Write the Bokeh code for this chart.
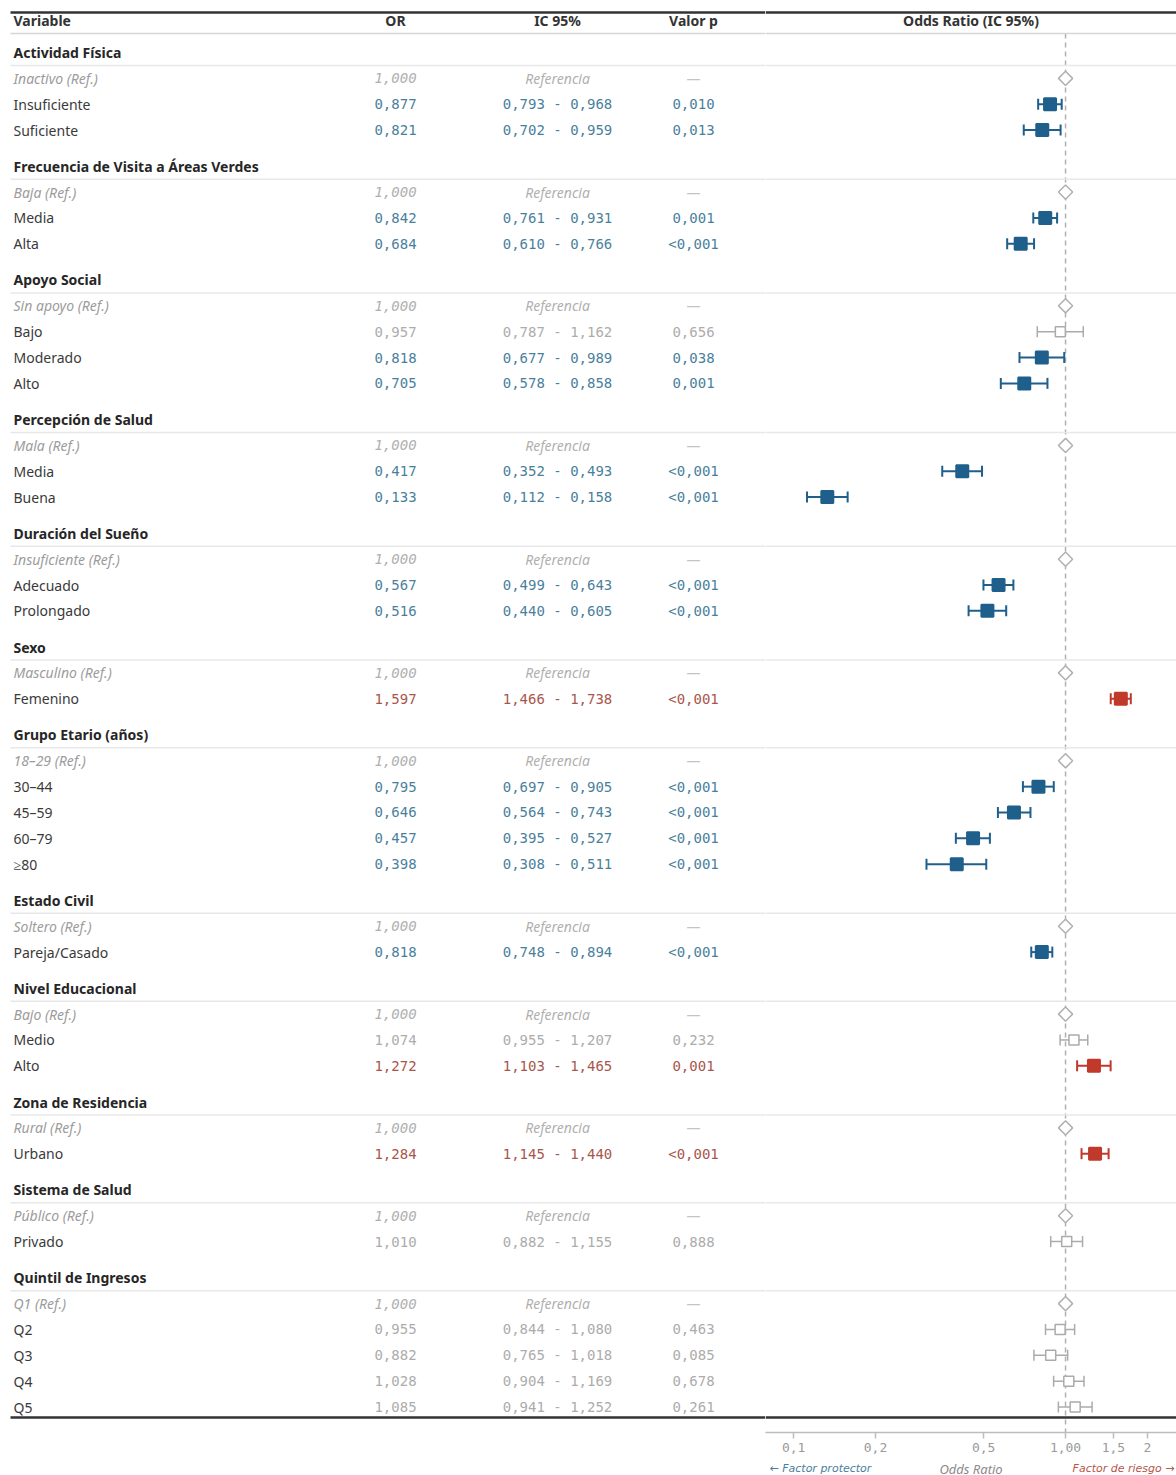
import numpy as np
from bokeh.plotting import figure
from bokeh.models import Range1d, ColumnDataSource, Span, Label, FixedTicker
from bokeh.layouts import row, column
from bokeh.embed import file_html
from bokeh.resources import INLINE
from bokeh.core.properties import value

# ---------------- data ----------------
group_names = ["Actividad Física", "Frecuencia de Visita a Áreas Verdes", "Apoyo Social",
               "Percepción de Salud", "Duración del Sueño", "Sexo", "Grupo Etario (años)",
               "Estado Civil", "Nivel Educacional", "Zona de Residencia", "Sistema de Salud",
               "Quintil de Ingresos"]
ref_labels = ["Inactivo", "Baja", "Sin apoyo", "Mala", "Insuficiente", "Masculino", "18–29",
              "Soltero", "Bajo", "Rural", "Público", "Q1"]
categories = [["Insuficiente", "Suficiente"], ["Media", "Alta"], ["Bajo", "Moderado", "Alto"],
              ["Media", "Buena"], ["Adecuado", "Prolongado"], ["Femenino"],
              ["30–44", "45–59", "60–79", "≥80"], ["Pareja/Casado"], ["Medio", "Alto"],
              ["Urbano"], ["Privado"], ["Q2", "Q3", "Q4", "Q5"]]
odds_ratio = [[0.877, 0.821], [0.842, 0.684], [0.957, 0.818, 0.705], [0.417, 0.133],
              [0.567, 0.516], [1.597], [0.795, 0.646, 0.457, 0.398], [0.818], [1.074, 1.272],
              [1.284], [1.010], [0.955, 0.882, 1.028, 1.085]]
ci_low = [[0.793, 0.702], [0.761, 0.610], [0.787, 0.677, 0.578], [0.352, 0.112],
          [0.499, 0.440], [1.466], [0.697, 0.564, 0.395, 0.308], [0.748], [0.955, 1.103],
          [1.145], [0.882], [0.844, 0.765, 0.904, 0.941]]
ci_high = [[0.968, 0.959], [0.931, 0.766], [1.162, 0.989, 0.858], [0.493, 0.158],
           [0.643, 0.605], [1.738], [0.905, 0.743, 0.527, 0.511], [0.894], [1.207, 1.465],
           [1.440], [1.155], [1.080, 1.018, 1.169, 1.252]]
p_values = [["0,010", "0,013"], ["0,001", "<0,001"], ["0,656", "0,038", "0,001"],
            ["<0,001", "<0,001"], ["<0,001", "<0,001"], ["<0,001"],
            ["<0,001", "<0,001", "<0,001", "<0,001"], ["<0,001"], ["0,232", "0,001"],
            ["<0,001"], ["0,888"], ["0,463", "0,085", "0,678", "0,261"]]
tick_values = [0.1, 0.2, 0.5, 1.0, 1.5, 2.0]
tick_labels = ["0,1", "0,2", "0,5", "1,00", "1,5", "2"]
footer_texts = ["← Factor protector", "Odds Ratio", "Factor de riesgo →"]

# ---------------- style ----------------
SANS = "Noto Sans"
MONO = "DejaVu Sans Mono"
BLUE, BLUE_TXT = "#1f5f8b", "#4a7f9c"
RED, RED_TXT = "#c0392b", "#a8564c"
GRAY, GRAY_TXT = "#ababab", "#acacac"
REF_TXT = "#9c9c9c"

P = 25.85      # px per row
TOP = 52       # px of first group header
W_TABLE, W_FOREST = 765, 411
H_FRAME = 1432
AXIS_PANEL = 27


def fmt(v):
    return f"{v:.3f}".replace(".", ",")


def pnum(s):
    return float(s.replace("<", "").replace(",", "."))


# ---------------- build rows ----------------
hdr_u, hdr_txt = [], []
ref = dict(u=[], label=[], orv=[], or_txt=[], ci_txt=[], p_txt=[])
dat = dict(u=[], label=[], orv=[], lo=[], hi=[], or_txt=[], ci_txt=[], p_txt=[],
           txt_color=[], mk_color=[], fill=[], size=[], lw=[])
u = 0.0
for gi, g in enumerate(group_names):
    hdr_u.append(u)
    hdr_txt.append(g)
    u += 1
    ref["u"].append(u)
    ref["label"].append(ref_labels[gi] + " (Ref.)")
    ref["orv"].append(1.0)
    ref["or_txt"].append("1,000")
    ref["ci_txt"].append("Referencia")
    ref["p_txt"].append("—")
    for ci, c in enumerate(categories[gi]):
        u += 1
        o, lo, hi, pv = odds_ratio[gi][ci], ci_low[gi][ci], ci_high[gi][ci], p_values[gi][ci]
        sig = pnum(pv) < 0.05
        if sig and o < 1:
            tc, mc, fc, sz, lw = BLUE_TXT, BLUE, BLUE, 12, 2
        elif sig:
            tc, mc, fc, sz, lw = RED_TXT, RED, RED, 12, 2
        else:
            tc, mc, fc, sz, lw = GRAY_TXT, GRAY, "white", 10, 1.5
        dat["u"].append(u); dat["label"].append(c); dat["orv"].append(o)
        dat["lo"].append(lo); dat["hi"].append(hi)
        dat["or_txt"].append(fmt(o)); dat["ci_txt"].append(f"{fmt(lo)} - {fmt(hi)}")
        dat["p_txt"].append(pv); dat["txt_color"].append(tc); dat["mk_color"].append(mc)
        dat["fill"].append(fc); dat["size"].append(sz); dat["lw"].append(lw)
    u += 1.4
last_u = dat["u"][-1]

u_top_rule = (12 - TOP) / P
u_head = (20 - TOP) / P
u_head_rule = (33 - TOP) / P
u_bottom_rule = last_u + (1417 - 1406.5) / P
sep_u = [h + 0.5 for h in hdr_u]

ref_src = ColumnDataSource(ref)
dat_src = ColumnDataSource(dat)

y_range = Range1d((H_FRAME - TOP) / P, -TOP / P)

# ---------------- table figure ----------------
t = figure(frame_width=W_TABLE, frame_height=H_FRAME, output_backend="svg", toolbar_location=None,
           x_range=Range1d(0, W_TABLE), y_range=y_range,
           x_axis_location=None, y_axis_location=None, min_border=0,
           min_border_bottom=AXIS_PANEL)
t.grid.visible = False
t.outline_line_color = None
t.background_fill_color = "white"

# rules
t.segment(x0=10, x1=W_TABLE, y0=u_top_rule, y1=u_top_rule, line_color="#333333", line_width=2.5)
t.segment(x0=10, x1=W_TABLE, y0=u_head_rule, y1=u_head_rule, line_color="#d6d6d6", line_width=1.5)
t.segment(x0=10, x1=W_TABLE, y0=u_bottom_rule, y1=u_bottom_rule, line_color="#333333", line_width=2.5)
t.segment(x0=10, x1=W_TABLE, y0=sep_u, y1=sep_u, line_color="#e8e8e8", line_width=1.5)

COL_OR, COL_CI, COL_P = 395, 557, 693
hdr_kw = dict(text_font=value(SANS), text_font_size="14px", text_font_style="bold",
              text_color="#333333", text_baseline="middle")
t.text(x=[13], y=[u_head], text=["Variable"], text_align="left", **hdr_kw)
t.text(x=[COL_OR, COL_CI, COL_P], y=[u_head] * 3, text=["OR", "IC 95%", "Valor p"],
       text_align="center", **hdr_kw)
t.text(x=13, y=hdr_u, text=hdr_txt, text_align="left",
       text_font=value(SANS), text_font_size="14px", text_font_style="bold",
       text_color="#262626", text_baseline="middle")

# reference rows
t.text(x=13, y="u", text="label", source=ref_src, text_font=value(SANS), text_font_size="14px",
       text_font_style="italic", text_color=REF_TXT, text_baseline="middle")
t.text(x=COL_OR, y="u", text="or_txt", source=ref_src, text_font=value(MONO), text_font_size="14px",
       text_font_style="italic", text_color="#b0b0b0", text_baseline="middle", text_align="center")
t.text(x=COL_CI, y="u", text="ci_txt", source=ref_src, text_font=value(SANS), text_font_size="14px",
       text_font_style="italic", text_color="#b0b0b0", text_baseline="middle", text_align="center")
t.text(x=COL_P, y="u", text="p_txt", source=ref_src, text_font=value(SANS), text_font_size="14px",
       text_color="#c4c4c4", text_baseline="middle", text_align="center")

# data rows
t.text(x=13, y="u", text="label", source=dat_src, text_font=value(SANS), text_font_size="14px",
       text_color="#3a3a3a", text_baseline="middle")
for col, xx in (("or_txt", COL_OR), ("ci_txt", COL_CI), ("p_txt", COL_P)):
    t.text(x=xx, y="u", text=col, source=dat_src, text_font=value(MONO), text_font_size="14px",
           text_color="txt_color", text_baseline="middle", text_align="center")

# ---------------- forest figure ----------------
f = figure(frame_width=W_FOREST, frame_height=H_FRAME, output_backend="svg", toolbar_location=None,
           x_axis_type="log", x_range=Range1d(0.0788, 2.559), y_range=y_range,
           y_axis_location=None, min_border=0, min_border_bottom=AXIS_PANEL)
f.grid.visible = False
f.outline_line_color = None
f.background_fill_color = "white"

f.add_layout(Span(location=u_top_rule, dimension="width", line_color="#333333", line_width=2.5))
f.add_layout(Span(location=u_head_rule, dimension="width", line_color="#d6d6d6", line_width=1.5))
f.add_layout(Span(location=u_bottom_rule, dimension="width", line_color="#333333", line_width=2.5))
for s in sep_u:
    f.add_layout(Span(location=s, dimension="width", line_color="#e8e8e8", line_width=1.5))

f.segment(x0=[1.0], x1=[1.0], y0=[u_head_rule], y1=[(H_FRAME - TOP) / P],
          line_color="#b0b0b0", line_width=1.5, line_dash="5 4")

f.add_layout(Label(x=W_FOREST / 2, y=u_head, x_units="screen", text="Odds Ratio (IC 95%)",
                   text_font=SANS, text_font_size="14px", text_font_style="bold",
                   text_color="#333333", text_align="center", text_baseline="middle"))

# CI lines and caps
f.segment(x0="lo", x1="hi", y0="u", y1="u", source=dat_src, line_color="mk_color", line_width="lw")
for end in ("lo", "hi"):
    f.scatter(x=end, y="u", source=dat_src, marker="dash", angle=np.pi / 2, size=11,
              line_color="mk_color", line_width="lw")
f.scatter(x="orv", y="u", source=dat_src, marker="square", size="size",
          fill_color="fill", line_color="mk_color", line_width="lw")
# reference diamonds
f.scatter(x="orv", y="u", source=ref_src, marker="square", angle=np.pi / 4, size=10,
          fill_color="white", line_color="#b0b0b0", line_width=1.5)

# axis
ax = f.xaxis[0]
ax.ticker = FixedTicker(ticks=tick_values, minor_ticks=[])
ax.major_label_overrides = {v: s for v, s in zip(tick_values, tick_labels)}
ax.axis_line_color = "#bdbdbd"
ax.axis_line_width = 1.5
ax.major_tick_line_color = "#bdbdbd"
ax.major_tick_line_width = 1.5
ax.major_tick_out = 6
ax.major_tick_in = 0
ax.minor_tick_line_color = None
ax.major_label_text_font = MONO
ax.major_label_text_font_size = "13px"
ax.major_label_text_color = "#9a9a9a"
ax.major_label_standoff = 4

# ---------------- footer figure ----------------
ft = figure(frame_width=W_TABLE + W_FOREST, frame_height=18, output_backend="svg",
            toolbar_location=None, x_range=Range1d(0, W_TABLE + W_FOREST), y_range=Range1d(0, 1),
            x_axis_location=None, y_axis_location=None, min_border=0)
ft.grid.visible = False
ft.outline_line_color = None
ft.text(x=[W_TABLE + 4], y=[0.5], text=[footer_texts[0]], text_font=value("DejaVu Sans"),
        text_font_size="11px", text_font_style="italic", text_color="#4a7f9c",
        text_align="left", text_baseline="middle")
ft.text(x=[W_TABLE + W_FOREST / 2], y=[0.5], text=[footer_texts[1]], text_font=value(SANS),
        text_font_size="13px", text_font_style="italic", text_color="#8a8a8a",
        text_align="center", text_baseline="middle")
ft.text(x=[W_TABLE + W_FOREST - 2], y=[0.5], text=[footer_texts[2]], text_font=value("DejaVu Sans"),
        text_font_size="11px", text_font_style="italic", text_color="#b5574c",
        text_align="right", text_baseline="middle")

layout = column(row(t, f), ft)
open("out.html", "w").write(file_html(layout, INLINE))
